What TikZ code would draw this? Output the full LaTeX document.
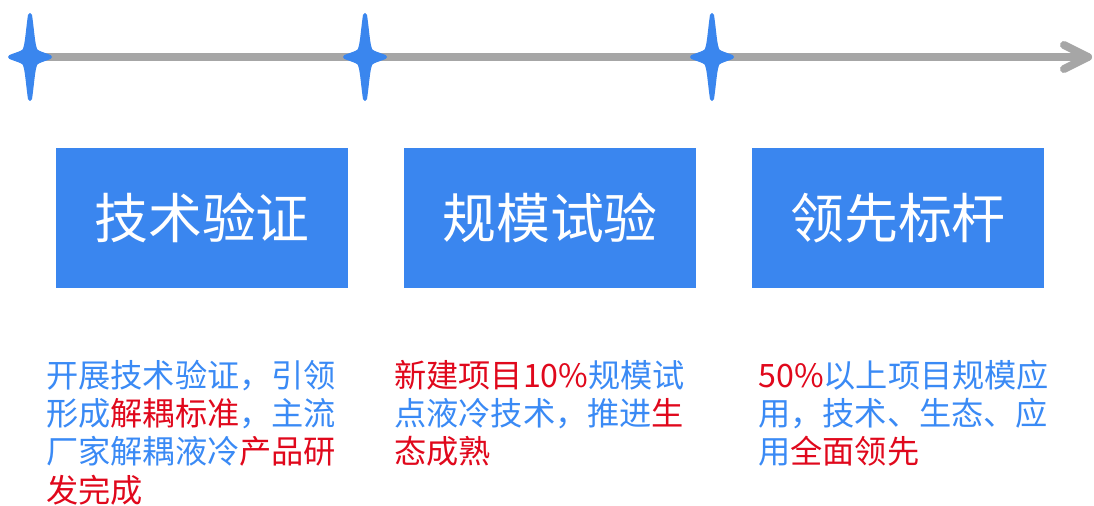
\documentclass[tikz,border=0pt]{standalone}
\usepackage{fontspec}
\setmainfont{Noto Sans CJK SC}
\definecolor{starblue}{HTML}{3A86EE}
\definecolor{boxblue}{HTML}{3A86EF}
\definecolor{tblue}{HTML}{3A8AF5}
\definecolor{tred}{HTML}{E0081C}
\definecolor{axisgray}{HTML}{A6A6A6}
\newcommand\blu[1]{\textcolor{tblue}{#1}}
\newcommand\rd[1]{\textcolor{tred}{#1}}
\tikzset{
  axis/.style={draw=axisgray, line width=0.24cm, line cap=round, line join=round},
  spark/.pic={\filldraw[fill=starblue, draw=starblue, line width=0.12cm, line join=round]
    (0,-42) .. controls (2.5,-25) and (3,-10) .. (6,-6)
    .. controls (9,-3.5) and (13,-3) .. (20,0)
    .. controls (13,3) and (9,3.5) .. (6,6)
    .. controls (3,10) and (2.5,25) .. (0,42)
    .. controls (-2.5,25) and (-3,10) .. (-6,6)
    .. controls (-9,3.5) and (-13,3) .. (-20,0)
    .. controls (-13,-3) and (-9,-3.5) .. (-6,-6)
    .. controls (-3,-10) and (-2.5,-25) .. cycle;},
  stagebox/.style={fill=boxblue, minimum width=8.76cm, minimum height=4.2cm, inner sep=0,
    text=white, font=\fontsize{46pt}{50pt}\selectfont},
  desc/.style={anchor=north west, inner sep=0, align=left, text=tblue,
    font=\fontsize{27.5pt}{32.6pt}\selectfont}
}
\begin{document}
\begin{tikzpicture}[x=0.03cm,y=-0.03cm]
\useasboundingbox (0,0) rectangle (1094,506);
\coordinate (s1) at (30,57);
\coordinate (s2) at (365,57);
\coordinate (s3) at (712,57);
\coordinate (e) at (1088,57);
\coordinate (a1) at (1064,45);
\coordinate (a2) at (1064,69);
\draw[axis] (s1) -- (e);
\draw[axis] (a1) -- (e) -- (a2);
\pic at (s1) {spark};
\pic at (s2) {spark};
\pic at (s3) {spark};
\node[stagebox] (b1) at (202,218) {技术验证};
\node[stagebox] (b2) at (550,218) {规模试验};
\node[stagebox] (b3) at (898,218) {领先标杆};
\node[desc] (t1) at (46,360) {\blu{开展技术验证，引领}\\\blu{形成}\rd{解耦标准}\blu{，主流}\\\blu{厂家解耦液冷}\rd{产品研}\\\rd{发完成}};
\node[desc] (t2) at (394,360) {\rd{新建项目10\%}\blu{规模试}\\\blu{点液冷技术，推进}\rd{生}\\\rd{态成熟}};
\node[desc] (t3) at (758,360) {\rd{50\%}\blu{以上项目规模应}\\\blu{用，技术、生态、应}\\\blu{用}\rd{全面领先}};
\end{tikzpicture}
\end{document}
